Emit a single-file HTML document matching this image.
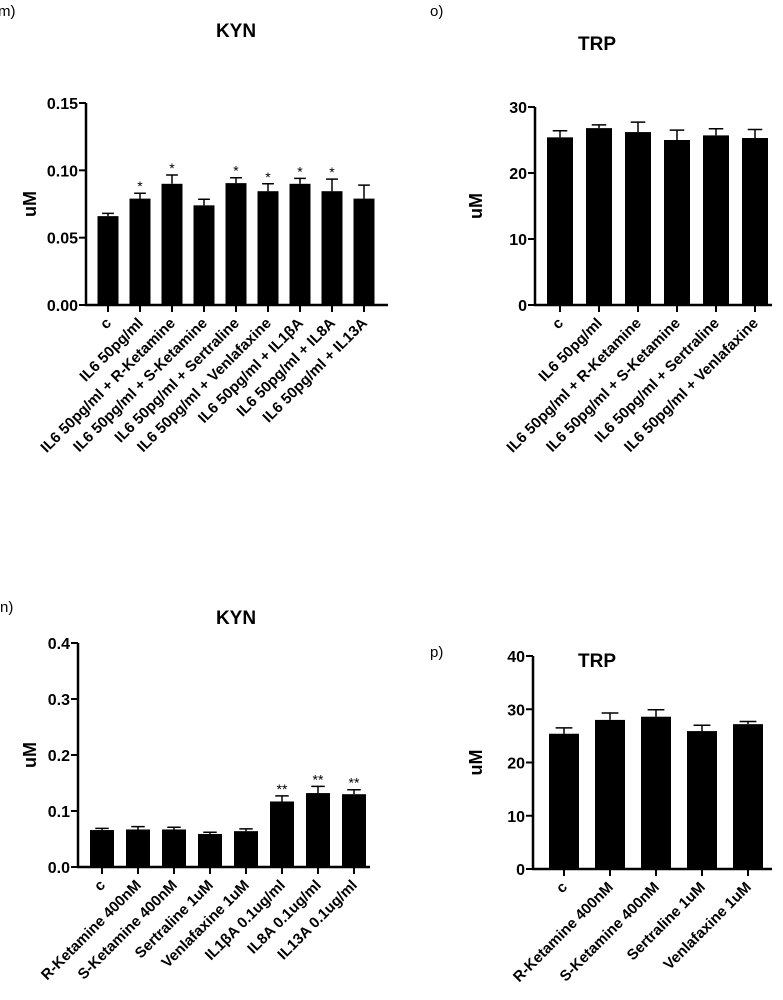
<!DOCTYPE html>
<html><head><meta charset="utf-8"><style>
body{margin:0;background:#fff;width:783px;height:1000px;overflow:hidden;font-family:"Liberation Sans",Arial,sans-serif}
svg{display:block}
text{font-family:"Liberation Sans",Arial,sans-serif;fill:#000}
</style></head><body>
<svg id="fig" width="783" height="1000" viewBox="0 0 783 1000"></svg>
<script>
// Panel m (KYN, IL6 combos)
const mCats=["c","IL6 50pg/ml","IL6 50pg/ml + R-Ketamine","IL6 50pg/ml + S-Ketamine","IL6 50pg/ml + Sertraline","IL6 50pg/ml + Venlafaxine","IL6 50pg/ml + IL1\u03b2A","IL6 50pg/ml + IL8A","IL6 50pg/ml + IL13A"];
const mVals=[0.066,0.079,0.090,0.074,0.0905,0.0845,0.090,0.0845,0.079];
const mErr=[0.002,0.004,0.0065,0.0045,0.004,0.0055,0.004,0.009,0.010];
const mStars=["","*","*","","*","*","*","*",""];
const mTicks=[0,0.05,0.10,0.15];
const mTickLabels=["0.00","0.05","0.10","0.15"];
// Panel o (TRP, IL6 combos)
const oCats=["c","IL6 50pg/ml","IL6 50pg/ml + R-Ketamine","IL6 50pg/ml + S-Ketamine","IL6 50pg/ml + Sertraline","IL6 50pg/ml + Venlafaxine"];
const oVals=[25.4,26.8,26.2,25.0,25.7,25.3];
const oErr=[1.0,0.5,1.5,1.5,1.0,1.3];
const oStars=["","","","","",""];
const oTicks=[0,10,20,30];
const oTickLabels=["0","10","20","30"];
// Panel n (KYN, single treatments)
const nCats=["c","R-Ketamine 400nM","S-Ketamine 400nM","Sertraline 1uM","Venlafaxine 1uM","IL1\u03b2A 0.1ug/ml","IL8A 0.1ug/ml","IL13A 0.1ug/ml"];
const nVals=[0.066,0.067,0.067,0.059,0.064,0.117,0.132,0.130];
const nErr=[0.003,0.005,0.004,0.003,0.004,0.010,0.012,0.008];
const nStars=["","","","","","**","**","**"];
const nTicks=[0,0.1,0.2,0.3,0.4];
const nTickLabels=["0.0","0.1","0.2","0.3","0.4"];
// Panel p (TRP, single treatments)
const pCats=["c","R-Ketamine 400nM","S-Ketamine 400nM","Sertraline 1uM","Venlafaxine 1uM"];
const pVals=[25.4,28.0,28.6,25.9,27.2];
const pErr=[1.1,1.3,1.3,1.1,0.5];
const pStars=["","","","",""];
const pTicks=[0,10,20,30,40];
const pTickLabels=["0","10","20","30","40"];

const NS="http://www.w3.org/2000/svg";
const svg=document.getElementById('fig');
function mk(tag,attrs,parent,txt){const e=document.createElementNS(NS,tag);for(const k in attrs)e.setAttribute(k,attrs[k]);if(txt!==undefined)e.textContent=txt;(parent||svg).appendChild(e);return e;}

function panel(id,cfg,cats,vals,errs,stars,ticks,tickLabels){
  const g=mk('g',{});
  
  
  const {ax,y0,yTop,max,x0,step,bw,xEnd}=cfg;
  const y=v=>y0-(v/max)*(y0-yTop);
  const xc=i=>x0+i*step;
  const yl=mk('line',{x1:ax,y1:yTop,x2:ax,y2:y0+1,stroke:'#000','stroke-width':2.5},g);
  
  
  const xl=mk('line',{x1:ax-1,y1:y0,x2:xEnd,y2:y0,stroke:'#000','stroke-width':2.5},g);
  
  
  ticks.forEach((t,i)=>{
    mk('line',{x1:ax-7,y1:y(t),x2:ax,y2:y(t),stroke:'#000','stroke-width':2},g);
    const tl=mk('text',{x:ax-8,y:y(t)+6,'text-anchor':'end',style:'font-size:16px;font-weight:bold'},g,tickLabels[i]);
    
    
  });
  cats.forEach((c,i)=>{
    const cx=xc(i);
    const top=y(vals[i]);
    const b=mk('rect',{x:cx-bw/2,y:top,width:bw,height:y0-top,fill:'#000'},g);
    
    
    const et=y(vals[i]+errs[i]);
    const e=mk('path',{d:`M${cx},${top} V${et} M${cx-bw*0.28},${et} H${cx+bw*0.28}`,stroke:'#000','stroke-width':1.5,fill:'none'},g);
    
    
    if(stars[i]){const s=mk('text',{x:cx,y:et-2,'text-anchor':'middle',style:'font-size:14px'},g,stars[i]);
      
      }
    mk('line',{x1:cx,y1:y0,x2:cx,y2:y0+7,stroke:'#000','stroke-width':2},g);
    const l=mk('text',{x:cx+4,y:y0+19,'text-anchor':'end',style:'font-size:15px;font-weight:bold',transform:`rotate(-45 ${cx+4} ${y0+19})`},g,c);
    
    
  });
  const yt=mk('text',{x:0,y:0,'text-anchor':'middle',style:'font-size:18px;font-weight:bold',transform:`translate(${cfg.ytx},${(y0+yTop)/2}) rotate(-90)`},g,'uM');
  
  
  const tt=mk('text',{x:cfg.tx,y:cfg.ty,'text-anchor':'middle',style:'font-size:19px;font-weight:bold'},g,cfg.title);
  
  
  const pl=mk('text',{x:cfg.lx,y:cfg.ly,style:'font-size:15px'},g,cfg.letter);
  
  
}
panel('kyn-m',{ax:86,y0:305,yTop:103,max:0.15,x0:108,step:32,bw:21,xEnd:388,ytx:36,tx:236,ty:37,title:'KYN',lx:-2,ly:16,letter:'m)'},mCats,mVals,mErr,mStars,mTicks,mTickLabels);
panel('trp-o',{ax:535,y0:305,yTop:107,max:30,x0:560,step:39,bw:26,xEnd:772,ytx:482,tx:597,ty:50,title:'TRP',lx:430,ly:16,letter:'o)'},oCats,oVals,oErr,oStars,oTicks,oTickLabels);
panel('kyn-n',{ax:78,y0:867,yTop:643,max:0.4,x0:102,step:36,bw:24,xEnd:370,ytx:36,tx:236,ty:624,title:'KYN',lx:0,ly:612,letter:'n)'},nCats,nVals,nErr,nStars,nTicks,nTickLabels);
panel('trp-p',{ax:533,y0:869,yTop:656,max:40,x0:564,step:46,bw:30,xEnd:772,ytx:482,tx:597,ty:667,title:'TRP',lx:430,ly:657,letter:'p)'},pCats,pVals,pErr,pStars,pTicks,pTickLabels);
</script>
</body></html>
